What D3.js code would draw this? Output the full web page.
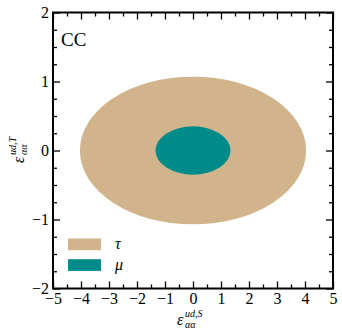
<!DOCTYPE html>
<html>
<head>
<meta charset="utf-8">
<script src="https://cdn.jsdelivr.net/npm/d3@7"></script>
<style>
body { margin: 0; background: #fff; }
svg { display: block; font-family: "Liberation Serif", serif; }
</style>
</head>
<body>
<svg id="chart" width="342" height="336"></svg>
<script>
// ellipses: name, centre, semi-axes (in data units)
let regions = ["tau", "mu"]
let labels = ["τ", "μ"]
let colors = ["#d2b48c", "#008b8b"]
let centerX = [0, 0]
let centerY = [0, 0]
let radiusX = [4.04, 1.34]
let radiusY = [1.07, 0.35]

let xTicks = [-5, -4, -3, -2, -1, 0, 1, 2, 3, 4, 5]
let yTicks = [-2, -1, 0, 1, 2]

let padL = 53, padR = 333, padT = 12.5, padB = 288.5
let serif = '"Liberation Serif", serif'

let svg = d3.select('#chart')

let xScale = d3.scaleLinear().domain([-5, 5]).range([padL, padR])
let yScale = d3.scaleLinear().domain([-2, 2]).range([padB, padT])

// ellipses
svg.selectAll('ellipse')
   .data(regions)
   .enter()
   .append('ellipse')
   .attr('cx', (d, i) => xScale(centerX[i]))
   .attr('cy', (d, i) => yScale(centerY[i]))
   .attr('rx', (d, i) => xScale(radiusX[i]) - xScale(0))
   .attr('ry', (d, i) => yScale(0) - yScale(radiusY[i]))
   .attr('fill', (d, i) => colors[i])

// ticks, inward on all sides
let minorX = d3.range(-4.5, 5, 1)
let minorY = d3.range(-1.75, 2, 0.25).filter(v => Math.abs(v - Math.round(v)) > 0.01)

let fmt = v => v < 0 ? "\u2212" + Math.abs(v) : String(v)

let addAxis = (axisFn, scale, ticks, minor, pos, size, showLabels) => {
    let g = svg.append('g').attr('transform', pos)
    g.call(axisFn(scale).tickValues(minor).tickSize(size[1]).tickFormat(''))
     .call(a => a.select('.domain').remove())
    let g2 = svg.append('g').attr('transform', pos)
    g2.call(axisFn(scale).tickValues(ticks).tickSize(size[0]).tickPadding(size[2])
                         .tickFormat(showLabels ? fmt : ''))
      .call(a => a.select('.domain').remove())
}

// ticks point inward, so negative sizes
addAxis(d3.axisBottom, xScale, xTicks, minorX, `translate(0,${padB})`, [-7, -4, 4], true)
addAxis(d3.axisTop, xScale, xTicks, minorX, `translate(0,${padT})`, [-7, -4, 0], false)
addAxis(d3.axisLeft, yScale, yTicks, minorY, `translate(${padL},0)`, [-7, -4, 4], true)
addAxis(d3.axisRight, yScale, yTicks, minorY, `translate(${padR},0)`, [-7, -4, 0], false)

svg.selectAll('.tick line').attr('stroke', '#000').attr('stroke-width', 1.3)
svg.selectAll('.tick text').attr('font-size', 16).attr('fill', '#000')
   .attr('font-family', serif)

// frame
svg.append('rect')
   .attr('x', padL).attr('y', padT)
   .attr('width', padR - padL).attr('height', padB - padT)
   .attr('fill', 'none').attr('stroke', '#000').attr('stroke-width', 2)

// CC label
svg.append('text')
   .attr('x', 61).attr('y', 46)
   .attr('font-size', 19)
   .text('CC')

// legend
let legend = svg.append('g')
legend.selectAll('rect')
   .data(regions)
   .enter()
   .append('rect')
   .attr('x', 68).attr('y', (d, i) => 238.5 + i * 20.7)
   .attr('width', 33).attr('height', 11.7)
   .attr('fill', (d, i) => colors[i])
legend.selectAll('text')
   .data(labels)
   .enter()
   .append('text')
   .attr('x', 115).attr('y', (d, i) => 249 + i * 20.7)
   .attr('font-size', 16).attr('font-style', 'italic')
   .text(d => d)

// axis titles: epsilon with stacked sub/superscript
let axisTitle = (g, sup) => {
    g.attr('font-style', 'italic')
    g.append('text').attr('x', 0).attr('y', 0).attr('font-size', 16).text('ε')
    g.append('text').attr('x', 8).attr('y', 3).attr('font-size', 10).text('αα')
    g.append('text').attr('x', 8).attr('y', -8).attr('font-size', 10).text(sup)
}

axisTitle(svg.append('g').attr('transform', 'translate(177,325)'), 'ud,S')
axisTitle(svg.append('g').attr('transform', 'translate(24,163) rotate(-90)'), 'ud,T')
</script>
</body>
</html>
